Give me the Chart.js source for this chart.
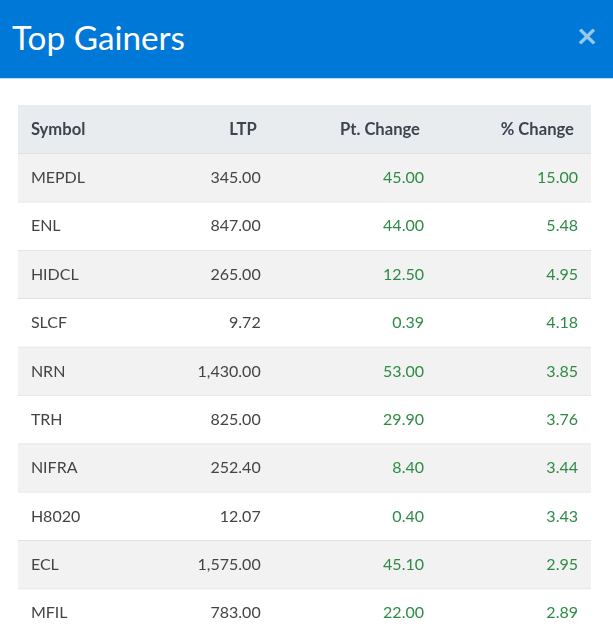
<!DOCTYPE html>
<html>
<head>
<meta charset="utf-8">
<script src="https://cdn.jsdelivr.net/npm/chart.js@4.4.1/dist/chart.umd.min.js"></script>
<style>
    body { margin: 0; width: 613px; height: 637px; overflow: hidden; background: #fff; font-family: Lato, "Noto Sans", sans-serif; }
    #header { position: relative; height: 78px; background: #0078d7; border-bottom: 1px solid #b9dbf6; }
    #title { position: absolute; left: 12px; top: 21px; font-size: 33.3px; line-height: 32px; color: #fff; }
    #close { position: absolute; left: 587px; top: 33.5px; transform: translate(-50%, -50%); font-size: 35px; line-height: 1; font-weight: bold; color: rgba(255, 255, 255, 0.6); }
    #wrap { width: 613px; height: 558px; }
</style>
</head>
<body>
<div id="header"><span id="title">Top Gainers</span><span id="close">×</span></div>
<div id="wrap"><canvas id="table-chart" width="613" height="558"></canvas></div>
<script>
const CANVAS = document.getElementById('table-chart');

// --- table data ---
const columnTitles = ['Symbol', 'LTP', 'Pt. Change', '% Change'];
const symbols = ['MEPDL', 'ENL', 'HIDCL', 'SLCF', 'NRN', 'TRH', 'NIFRA', 'H8020', 'ECL', 'MFIL'];
const ltp = [345.00, 847.00, 265.00, 9.72, 1430.00, 825.00, 252.40, 12.07, 1575.00, 783.00];
const ptChange = [45.00, 44.00, 12.50, 0.39, 53.00, 29.90, 8.40, 0.40, 45.10, 22.00];
const pctChange = [15.00, 5.48, 4.95, 4.18, 3.85, 3.76, 3.44, 3.43, 2.95, 2.89];

// anchor of each column's text on the x scale (0..4 = table width)
const COL_ANCHOR = [0.09, 1.694, 2.834, 3.909];
const COL_ALIGN = ['left', 'right', 'right', 'right'];
const HEADER_SHIFT = [0, -4, -4, -4];

const FONT = 'Lato, "Noto Sans", sans-serif';
const TEXT_COLOR = '#444444';
const HEAD_COLOR = '#3b4451';
const GREEN = '#2e8b45';

const fmt = v => v.toLocaleString('en-US', { minimumFractionDigits: 2, maximumFractionDigits: 2 });

const rowLabels = ['header', ...symbols];

// draws the cell texts at positions taken from the chart scales
const cellText = {
    id: 'cellText',
    afterDatasetsDraw(chart) {
        const { ctx, scales: { x, y } } = chart;
        ctx.save();
        ctx.textBaseline = 'alphabetic';

        ctx.font = `bold 16.6px ${FONT}`;
        ctx.fillStyle = HEAD_COLOR;
        columnTitles.forEach((t, c) => {
            ctx.textAlign = COL_ALIGN[c];
            ctx.fillText(t, x.getPixelForValue(COL_ANCHOR[c]) + HEADER_SHIFT[c], y.getPixelForValue(0) + 5.5);
        });

        ctx.font = `16px ${FONT}`;
        symbols.forEach((s, i) => {
            const yy = y.getPixelForValue(i + 1) + 5.5;
            const cells = [s, fmt(ltp[i]), fmt(ptChange[i]), fmt(pctChange[i])];
            cells.forEach((t, c) => {
                ctx.textAlign = COL_ALIGN[c];
                ctx.fillStyle = c < 2 ? TEXT_COLOR : GREEN;
                ctx.fillText(t, x.getPixelForValue(COL_ANCHOR[c]), yy);
            });
        });
        ctx.restore();
    }
};

new Chart(CANVAS, {
    type: 'bar',
    data: {
        labels: rowLabels,
        datasets: [{
            // one floating bar per row, spanning all columns = row background
            data: rowLabels.map(() => [0, columnTitles.length]),
            backgroundColor: c => c.dataIndex === 0 ? '#e9ecef' : (c.dataIndex % 2 ? '#f2f2f2' : '#ffffff'),
            borderColor: '#dee2e6',
            borderWidth: c => c.dataIndex === 0 ? 0 : { top: 1, bottom: 0, left: 0, right: 0 },
            borderSkipped: false,
            barPercentage: 1,
            categoryPercentage: 1
        }]
    },
    options: {
        indexAxis: 'y',
        responsive: false,
        animation: false,
        layout: { padding: { top: 26, left: 18, right: 22, bottom: 0 } },
        scales: {
            x: { type: 'linear', min: 0, max: columnTitles.length, display: false },
            y: { type: 'category', display: false, offset: true }
        },
        plugins: {
            legend: { display: false },
            tooltip: { enabled: false }
        }
    },
    plugins: [cellText]
});
</script>
</body>
</html>
